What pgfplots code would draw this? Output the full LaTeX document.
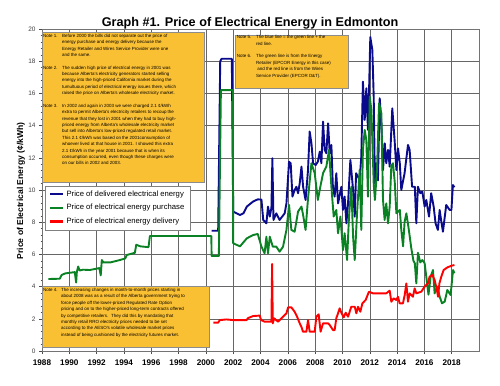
\documentclass[border=0pt]{standalone}
\usepackage{pgfplots}
\pgfplotsset{compat=1.18}
\usepackage{fontspec}
\setmainfont{Liberation Sans}
\definecolor{noteyellow}{RGB}{250,192,52}
\definecolor{cblue}{RGB}{10,10,140}
\definecolor{cgreen}{RGB}{10,130,35}
\definecolor{cred}{RGB}{255,0,0}
\newcommand{\notefont}{\fontsize{4.5}{6.4}\selectfont}

\begin{document}
\begin{tikzpicture}
\begin{axis}[
  at={(0,0)}, anchor=south west,
  scale only axis, width=437bp, height=322bp,
  xmin=1988, xmax=2020, ymin=0, ymax=20,
  xtick={1988,1990,...,2018},
  ytick={0,2,...,20},
  grid=major,
  major grid style={black!60, line width=0.5bp},
  axis line style={black!55, line width=0.6bp},
  tick style={black!70, line width=0.5bp},
  tick align=outside, tick pos=left,
  major tick length=3bp,
  minor y tick num=4, minor tick length=1.5bp,
  /pgf/number format/assume math mode=true,
  /pgf/number format/1000 sep={},
  xticklabel style={font=\fontsize{8.2}{9}\selectfont\bfseries, yshift=-2bp},
  yticklabel style={font=\fontsize{6.5}{7}\selectfont, black!75},
  legend style={at={(0.0069,0.5124)}, anchor=north west, draw=black!50, fill=white,
    font=\fontsize{7.7}{9}\selectfont, inner xsep=4bp, inner ysep=2.5bp,
    row sep=2.7bp, legend cell align=left},
  legend image code/.code={\draw[#1, line width=2.4bp] (0bp,0bp) -- (13bp,0bp);},
  every axis plot/.append style={line width=1.9bp, line join=round, mark=none},
]
\addplot[cblue] coordinates {
(2000.42,7.47) (2000.9,7.47) (2001.05,18.0) (2001.15,18.15) (2001.9,18.15) (2002.0,8.66)
(2002.5,8.45) (2002.75,8.55) (2003.0,8.97) (2003.45,9.28) (2003.8,9.42) (2004.07,9.4)
(2004.2,8.14) (2004.43,7.93) (2004.55,8.97) (2004.68,8.35) (2004.8,8.9) (2004.87,11.97)
(2004.95,8.14) (2005.16,8.55) (2005.4,8.14) (2005.77,8.55) (2005.9,9.17) (2006.09,11.76)
(2006.21,11.66) (2006.34,9.59) (2006.5,10.0) (2006.63,10.2) (2006.75,9.8) (2006.87,10.4)
(2007.0,11.45) (2007.12,10.2) (2007.3,9.38) (2007.48,11.24) (2007.6,13.63) (2007.73,12.9)
(2007.85,11.66) (2008.04,11.55) (2008.2,11.76) (2008.34,12.38) (2008.46,11.66) (2008.58,14.25)
(2008.7,12.49) (2008.82,12.28) (2008.95,14.14) (2009.07,12.28) (2009.19,12.8) (2009.3,10.2)
(2009.43,9.59) (2009.55,11.04) (2009.68,9.17) (2009.92,10.2) (2010.04,8.76) (2010.16,9.59)
(2010.29,7.93) (2010.41,9.17) (2010.58,11.87) (2010.78,10.0) (2010.9,8.35) (2011.0,11.04)
(2011.26,10.62) (2011.38,12.07) (2011.5,16.73) (2011.63,14.35) (2011.75,16.32) (2011.87,13.73)
(2011.95,16.2) (2012.04,19.5) (2012.19,18.7) (2012.29,15.8) (2012.38,10.4) (2012.48,11.66)
(2012.6,10.6) (2012.73,15.7) (2012.85,14.14) (2012.97,11.24) (2013.1,12.9) (2013.21,11.66)
(2013.34,12.49) (2013.46,11.45) (2013.65,15.07) (2013.82,13.1) (2013.95,11.24) (2014.07,12.59)
(2014.2,11.66) (2014.31,10.0) (2014.55,11.04) (2014.8,12.8) (2014.92,12.49) (2015.1,10.2)
(2015.3,10.2) (2015.41,7.93) (2015.53,10.2) (2015.7,9.8) (2015.85,9.9) (2016.02,8.97)
(2016.14,9.38) (2016.34,8.35) (2016.5,9.8) (2016.68,8.97) (2016.82,7.93) (2016.99,7.52)
(2017.12,8.76) (2017.24,8.04) (2017.36,7.41) (2017.6,9.07) (2017.85,8.76) (2017.98,8.76)
(2018.09,10.31) (2018.2,10.17)
};
\addlegendentry{Price of delivered electrical energy}
\addplot[cgreen] coordinates {
(1988.46,4.47) (1989.3,4.49) (1989.44,4.72) (1989.7,4.82) (1990.05,4.86) (1990.4,4.9)
(1990.5,4.25) (1990.55,4.9) (1990.65,5.25) (1990.75,5.0) (1991.0,5.05) (1991.5,5.03)
(1992.2,5.15) (1992.3,4.7) (1992.38,5.65) (1992.5,5.5) (1993.0,5.5) (1993.7,5.65)
(1994.1,5.75) (1994.2,5.96) (1994.8,6.1) (1994.9,6.6) (1995.2,6.5) (1995.8,6.45)
(1995.9,7.14) (2000.4,7.14) (2000.42,5.9) (2000.95,5.9) (2001.1,16.2) (2001.97,16.2)
(2002.0,6.69) (2002.5,6.5) (2003.0,7.0) (2003.45,7.2) (2003.8,7.27) (2004.07,6.48)
(2004.3,6.07) (2004.43,7.1) (2004.55,6.07) (2004.68,7.1) (2004.9,6.48) (2005.16,6.48)
(2005.4,6.17) (2005.65,6.48) (2005.9,7.52) (2006.09,9.07) (2006.26,7.52) (2006.5,7.41)
(2006.75,8.66) (2007.0,8.97) (2007.12,8.45) (2007.3,7.52) (2007.48,9.48) (2007.73,11.66)
(2007.97,11.04) (2008.2,9.38) (2008.38,10.2) (2008.58,11.04) (2008.82,11.45) (2009.02,12.49)
(2009.19,10.2) (2009.36,8.35) (2009.55,8.76) (2009.68,7.31) (2009.85,8.35) (2010.04,6.27)
(2010.16,7.31) (2010.34,5.65) (2010.48,8.35) (2010.65,10.2) (2010.78,7.1) (2010.9,5.65)
(2011.07,8.55) (2011.26,11.24) (2011.38,7.52) (2011.5,12.49) (2011.63,13.73) (2011.75,13.1)
(2011.87,9.59) (2012.0,15.8) (2012.12,14.97) (2012.29,10.4) (2012.38,9.38) (2012.53,11.24)
(2012.68,15.38) (2012.85,14.76) (2012.97,9.38) (2013.09,8.14) (2013.21,9.17) (2013.34,7.93)
(2013.46,8.97) (2013.58,11.5) (2013.7,11.66) (2013.83,10.5) (2013.95,8.55) (2014.2,8.76)
(2014.31,7.52) (2014.44,6.5) (2014.55,8.0) (2014.68,8.55) (2014.85,7.6) (2015.04,6.4)
(2015.2,5.6) (2015.3,5.45) (2015.41,4.2) (2015.53,6.1) (2015.7,5.5) (2015.85,5.65)
(2016.02,5.45) (2016.2,4.2) (2016.3,3.5) (2016.46,4.62) (2016.63,5.03) (2016.75,3.58)
(2016.95,4.0) (2017.12,3.38) (2017.29,2.96) (2017.49,3.07) (2017.68,3.79) (2017.92,3.48)
(2018.1,5.03) (2018.2,4.83)
};
\addlegendentry{Price of electrical energy purchase}
\addplot[cred] coordinates {
(2000.54,1.76) (2000.9,1.76) (2001.02,1.92) (2001.5,1.96) (2002.0,1.92) (2002.97,1.92)
(2003.1,2.05) (2003.46,2.17) (2003.94,2.2) (2004.05,1.92) (2004.31,1.82) (2004.8,1.82)
(2004.85,5.4) (2004.9,1.72) (2005.0,2.03) (2005.28,1.82) (2005.65,2.13) (2005.9,2.34)
(2006.02,2.71) (2006.26,2.71) (2006.5,2.44) (2006.68,2.13) (2006.87,1.72) (2006.99,1.51)
(2007.11,1.2) (2007.36,1.2) (2007.48,1.92) (2007.6,1.2) (2007.97,1.2) (2008.09,2.13)
(2008.26,2.28) (2008.4,1.2) (2008.58,1.72) (2008.94,1.72) (2009.07,1.61) (2009.31,1.3)
(2009.43,1.3) (2009.55,2.03) (2009.8,2.65) (2009.92,2.38) (2010.09,2.09) (2010.24,2.38)
(2010.41,2.13) (2010.65,2.75) (2010.9,2.75) (2011.02,2.34) (2011.14,2.75) (2011.31,2.44)
(2011.46,2.96) (2011.7,3.17) (2011.94,3.68) (2012.24,3.58) (2013.21,3.58) (2013.46,3.75)
(2013.58,3.06) (2013.75,3.27) (2013.94,3.17) (2014.07,3.37) (2014.19,2.96) (2014.43,2.96)
(2014.56,3.48) (2014.68,4.2) (2014.8,3.06) (2014.92,3.58) (2015.16,3.37) (2015.29,3.89)
(2015.41,3.58) (2015.77,3.68) (2016.02,4.0) (2016.26,4.2) (2016.38,4.62) (2016.58,4.72)
(2016.75,4.41) (2016.92,3.79) (2017.0,3.37) (2017.1,4.2) (2017.24,4.62) (2017.41,5.03)
(2017.7,5.2) (2018.0,5.3) (2018.2,5.34)
};
\addlegendentry{Price of electrical energy delivery}
\end{axis}

% title and y label
\node[anchor=base, font=\fontsize{12.7}{14}\selectfont\bfseries] at (208bp,324.3bp)
  {Graph \#1. Price of Electrical Energy in Edmonton};
\node[rotate=90, font=\fontsize{8.6}{10}\selectfont\bfseries] at (-21bp,160bp)
  {Price of Electrical Energy (¢/kWh)};

% Notes 1-3
\filldraw[fill=noteyellow, draw=black!45, line width=0.4bp] (0bp,169bp) rectangle (162bp,319bp);
\node[anchor=base west, inner sep=0pt, font=\notefont] at (1bp,313.7bp) {%
\begin{tabular}[t]{@{}p{19bp}@{}l@{}}
Note 1. & Before 2000 the bills did not separate out the price of\\
 & energy purchase and energy delivery because the\\
 & Energy Retailer and Wires Service Provider were one\\
 & and the same.\\
 & \\
Note 2. & The sudden high price of electrical energy in 2001 was\\
 & because Alberta's electricity generators started selling\\
 & energy into the high-priced California market during the\\
 & tumultuous period of electrical energy issues there, which\\
 & raised the price on Alberta's wholesale electricity market.\\
 & \\
Note 3. & In 2002 and again in 2003 we were charged 2.1 ¢/kWh\\
 & extra to permit Alberta's electricity retailers to recoup the\\
 & revenue that they lost in 2001 when they had to buy high-\\
 & priced energy from Alberta's wholesale electricity market\\
 & but sell into Alberta's low-priced regulated retail market.\\
 & This 2.1 ¢/kWh was based on the 2001consumption of\\
 & whoever lived at that house in 2001. I showed this extra\\
 & 2.1 ¢/kWh in the year 2001 because that is when its\\
 & consumption occurred, even though these charges were\\
 & on our bills in 2002 and 2003.
\end{tabular}};

% Notes 5-6
\filldraw[fill=noteyellow, draw=black!45, line width=0.4bp] (193bp,263bp) rectangle (306bp,316bp);
\node[anchor=base west, inner sep=0pt, font=\notefont] at (194.7bp,312.2bp) {%
\begin{tabular}[t]{@{}p{19.3bp}@{}l@{}}
Note 5. & The blue line = the green line + the\\
 & red line.\\
 & \\
Note 6. & The green line is from the Energy\\
 & Retailer (EPCOR Energy in this case)\\
 & \ and the red line is from the Wires\\
 & Service Provider (EPCOR D\&T).
\end{tabular}};

% Note 4
\filldraw[fill=noteyellow, draw=black!45, line width=0.4bp] (0bp,4bp) rectangle (167bp,65bp);
\node[anchor=base west, inner sep=0pt, font=\notefont] at (1bp,59.5bp) {%
\begin{tabular}[t]{@{}p{18bp}@{}l@{}}
Note 4. & The increasing changes in month-to-month prices starting in\\
 & about 2008 was as a result of the Alberta government trying to\\
 & force people off the lower-priced Regulated Rate Option\\
 & pricing and on to the higher-priced long-term contracts offered\\
 & by competitive retailers. \ They did this by mandating that\\
 & monthly retail RRO electricity prices needed to be set\\
 & according to the AESO's volatile wholesale market prices\\
 & instead of being cushioned by the electricity futures market.
\end{tabular}};

\path[use as bounding box] (-42bp,-35bp) rectangle (458bp,351bp);
\end{tikzpicture}
\end{document}
